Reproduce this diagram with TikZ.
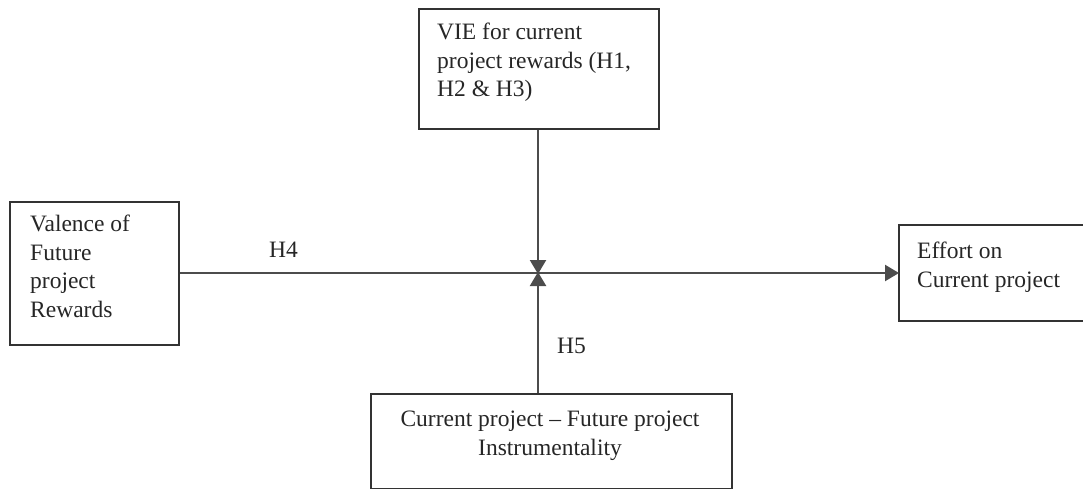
\documentclass[tikz,border=0pt]{standalone}
\usepackage{fontspec}
\setmainfont{Liberation Serif}
\usetikzlibrary{arrows.meta}
\begin{document}
\begin{tikzpicture}[x=1pt,y=-1pt,
  box/.style={draw=black!80, line width=2.2pt, fill=none, inner sep=0pt, anchor=north west},
  txt/.style={inner sep=0pt, font=\fontsize{23.5}{28.5}\selectfont, text=black!85},
  conn/.style={draw=black!70, line width=2.2pt},
  arr/.style={conn, -{Triangle[length=14pt,width=16pt]}, shorten >=-1pt}]
\useasboundingbox (0,0) rectangle (1083,489);
\clip (0,0) rectangle (1083,489);
% boxes
\node[box, minimum width=240pt, minimum height=120pt] (vie) at (418,8) {};
\node[box, minimum width=169pt, minimum height=143pt] (val) at (9,201) {};
\node[box, minimum width=200pt, minimum height=96pt] (eff) at (898,224) {};
\node[box, minimum width=361pt, minimum height=95pt] (cur) at (370,393) {};
% texts (base anchor = baseline of last line)
\node[txt, anchor=base west, align=left] (vietxt) at (437,97) {VIE for current\\project rewards (H1,\\H2 \& H3)};
\node[txt, anchor=base west, align=left] (valtxt) at (30,317) {Valence of\\Future\\project\\Rewards};
\node[txt, anchor=base west, align=left] (efftxt) at (917,287) {Effort on\\Current project};
\node[txt, anchor=base, align=center] (curtxt) at (550,455) {Current project -- Future project\\Instrumentality};
\node[txt, anchor=base west] (h4) at (269,257) {H4};
\node[txt, anchor=base west] (h5) at (557,353) {H5};
% junction
\coordinate (j) at (538,273);
\draw[arr] (val.east |- j) -- (eff.west |- j);
\draw[arr] (vie.south -| j) -- (j);
\draw[arr] (cur.north -| j) -- (j);
\end{tikzpicture}
\end{document}
